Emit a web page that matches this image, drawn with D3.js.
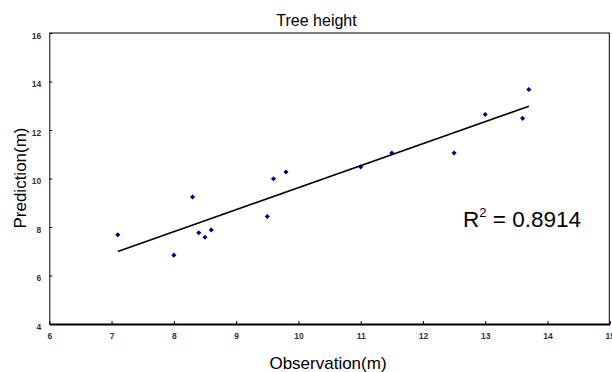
<!DOCTYPE html>
<html><head><meta charset="utf-8">
<script src="https://cdn.jsdelivr.net/npm/d3@7"></script>
<style>body{margin:0;background:#fff}svg{display:block}text{font-family:"Liberation Sans",Arial,sans-serif}</style>
</head><body>
<svg id="c" width="612" height="372"></svg>
<script>
const obs = [7.1, 8.0, 8.3, 8.4, 8.5, 8.6, 9.5, 9.6, 9.8, 11.0, 11.5, 12.5, 13.0, 13.6, 13.7];
const pred = [7.68, 6.84, 9.24, 7.76, 7.58, 7.88, 8.43, 9.99, 10.27, 10.48, 11.05, 11.05, 12.64, 12.48, 13.67];
const trendX = [7.1, 13.7];
const trendY = [6.99, 12.98];
const xTicks = [6, 7, 8, 9, 10, 11, 12, 13, 14, 15];
const yTicks = [4, 6, 8, 10, 12, 14, 16];

const svg = d3.select("#c");
const L = 49.3, R = 609.8, T = 33, B = 324;
const x = d3.scaleLinear().domain([6, 15]).range([L, R]);
const y = d3.scaleLinear().domain([4, 16]).range([B, T]);

// frame
svg.append("line").attr("x1", L).attr("x2", R).attr("y1", T).attr("y2", T).attr("stroke", "#000").attr("stroke-width", 1);
svg.append("line").attr("x1", R - 0.5).attr("x2", R - 0.5).attr("y1", T).attr("y2", B).attr("stroke", "#000").attr("stroke-width", 1);

// axes
const xAxis = d3.axisBottom(x).tickValues(xTicks).tickSizeInner(-3).tickSizeOuter(0).tickPadding(12);
const gx = svg.append("g").attr("transform", `translate(0,${B})`).call(xAxis);
gx.select(".domain").attr("stroke-width", 2);
gx.selectAll(".tick line").attr("stroke", "#000");
gx.selectAll(".tick text").attr("font-size", 8.5).attr("font-weight", "bold").attr("fill", "#333").attr("dy", "0.35em");

const yAxis = d3.axisLeft(y).tickValues(yTicks).tickSizeInner(-3).tickSizeOuter(0).tickPadding(8);
const gy = svg.append("g").attr("transform", `translate(${L},0)`).call(yAxis);
gy.selectAll(".tick line").attr("stroke", "#000");
gy.selectAll(".tick text").attr("font-size", 8.5).attr("font-weight", "bold").attr("fill", "#333").attr("dy", "0.6em");

// trend line
svg.append("path")
  .datum(trendX.map((v, i) => [v, trendY[i]]))
  .attr("d", d3.line().x(d => x(d[0])).y(d => y(d[1])))
  .attr("stroke", "#000").attr("stroke-width", 1.6).attr("fill", "none");

// points
svg.append("g").selectAll("path").data(obs.map((v, i) => [v, pred[i]])).join("path")
  .attr("d", d3.symbol().type(d3.symbolSquare).size(13))
  .attr("transform", d => `translate(${x(d[0])},${y(d[1])}) rotate(45)`)
  .attr("fill", "#000080");

// title & labels
svg.append("text").attr("x", 316.5).attr("y", 26).attr("text-anchor", "middle").attr("font-size", 16).text("Tree height");
svg.append("text").attr("x", 328).attr("y", 369).attr("text-anchor", "middle").attr("font-size", 17).text("Observation(m)");
svg.append("text").attr("transform", "translate(26,178) rotate(-90)").attr("text-anchor", "middle").attr("font-size", 17).text("Prediction(m)");

const r2 = svg.append("text").attr("x", 463).attr("y", 227).attr("font-size", 22.5);
r2.append("tspan").text("R");
r2.append("tspan").attr("font-size", 13).attr("dy", -10).text("2");
r2.append("tspan").attr("dy", 10).text(" = 0.8914");
</script>
</body></html>
